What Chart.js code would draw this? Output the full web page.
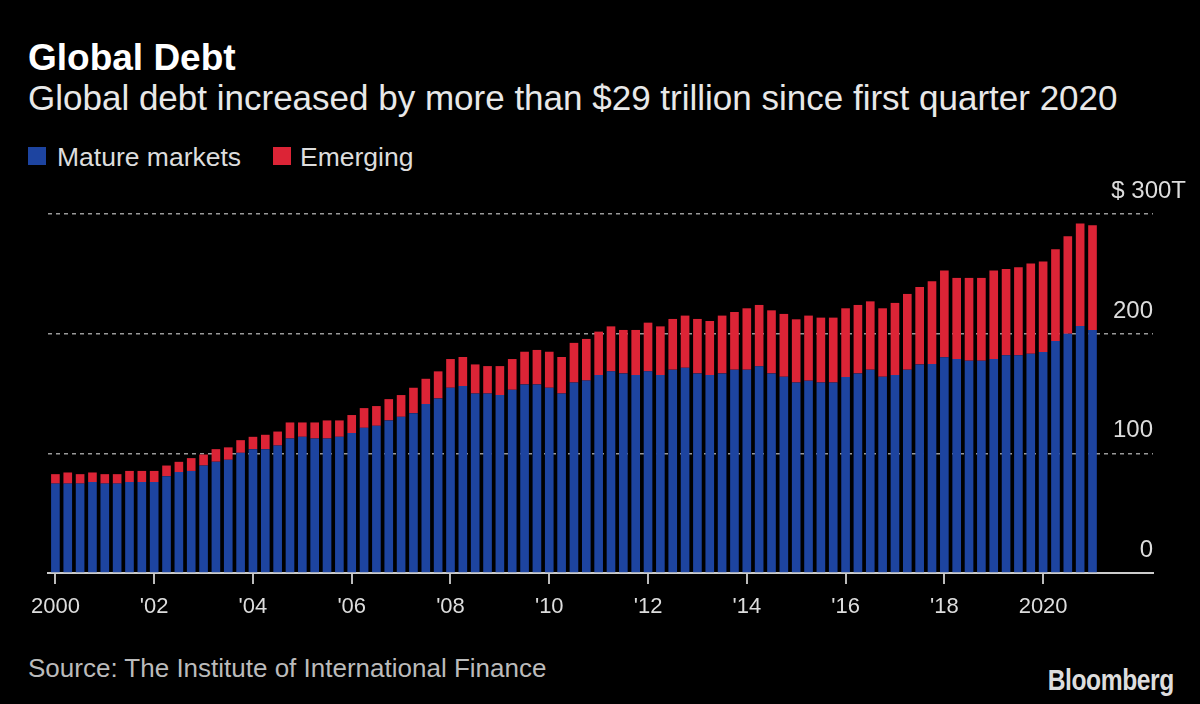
<!DOCTYPE html>
<html>
<head>
<meta charset="utf-8">
<script src="https://cdn.jsdelivr.net/npm/chart.js@4/dist/chart.umd.min.js"></script>
<style>
  html, body { margin: 0; padding: 0; background: #000; }
  body { width: 1200px; height: 704px; position: relative; overflow: hidden; font-family: "Liberation Sans", Arial, sans-serif; }
  .txt { position: absolute; white-space: nowrap; line-height: 1; }
  #title { left: 28px; top: 39px; font-size: 37px; font-weight: bold; color: #fff; }
  #subtitle { left: 28px; top: 80px; font-size: 35px; color: #e8e8e8; }
  .swatch { position: absolute; top: 147px; width: 18px; height: 18px; }
  .legend { top: 144px; font-size: 26.5px; color: #ddd; }
  #source { left: 28px; top: 655px; font-size: 26px; color: #bbb; }
  #logo { right: 26px; top: 665px; font-size: 30px; font-weight: bold; color: #ddd; transform: scaleX(0.82); transform-origin: right center; letter-spacing: -0.5px; }
  #wrap { position: absolute; left: 0; top: 180px; width: 1200px; height: 460px; }
</style>
</head>
<body>
<div id="title" class="txt">Global Debt</div>
<div id="subtitle" class="txt">Global debt increased by more than $29 trillion since first quarter 2020</div>
<div class="swatch" style="left:28px;background:#1d44a0"></div>
<div class="txt legend" style="left:57px">Mature markets</div>
<div class="swatch" style="left:273px;background:#dc2436"></div>
<div class="txt legend" style="left:300px">Emerging</div>
<div id="wrap"><canvas id="chart"></canvas></div>
<div id="source" class="txt">Source: The Institute of International Finance</div>
<div id="logo" class="txt">Bloomberg</div>
<script>
// quarterly, 2000 Q1 .. 2021 Q1, trillions of dollars
var quarters = [];
for (var yr = 2000; yr <= 2021; yr++) {
  for (var q = 1; q <= 4; q++) {
    if (yr === 2021 && q > 1) break;
    quarters.push(yr + ' Q' + q);
  }
}

var mature = [74.7, 74.7, 74.7, 76, 74.7, 74.7, 76, 76, 76, 80.9,
  84.3, 85.3, 89.8, 93, 94.6, 100.4, 103.5, 103.5, 106.5, 112.4,
  113.8, 112.4, 112.4, 113.8, 116.9, 121.3, 123, 127.5, 130.5, 133.6,
  141.2, 145.9, 154.8, 156.2, 150, 150, 148.7, 153.1, 157.6, 157.6,
  154.8, 150, 159.2, 160.8, 165.4, 168.5, 166.8, 165.4, 168.5, 165.4,
  169.9, 171.5, 166.8, 165.4, 166.8, 169.9, 169.9, 172.7, 166.8, 164,
  159.2, 160.7, 159.2, 159.2, 163.7, 166.8, 169.9, 164, 165.4, 169.9,
  174.3, 174.6, 180.2, 178.8, 177.4, 177.4, 178.8, 181.9, 181.9, 183.3,
  184.7, 193.9, 200, 206.4, 203.1];

var emerging = [7.9, 9.3, 7.9, 8, 7.9, 7.9, 9.3, 9.3, 9.3, 8.9,
  8.6, 10.7, 9.2, 10.5, 10.4, 10.6, 10.3, 12, 11.7, 13.4,
  12, 13.4, 15.1, 13.7, 15.1, 16.5, 16.5, 17.8, 18.2, 21.2,
  21.1, 22.6, 24, 24.3, 24.3, 22.9, 24.2, 25.7, 27.3, 28.8,
  30.1, 30.5, 33.1, 34.8, 36.3, 37.6, 36.3, 37.7, 40.7, 40.7,
  42.4, 43.6, 45.5, 45.2, 48.3, 48.2, 51.3, 51.3, 52.7, 52.5,
  52.8, 54.4, 54.2, 54.2, 57.5, 57.2, 57.1, 57.2, 60.3, 63.3,
  64.7, 69.2, 72.5, 67.8, 69.2, 69.2, 73.9, 72.2, 73.6, 75.3,
  75.6, 76.7, 81.4, 85.6, 87.5];

var yearTicks = [0, 8, 16, 24, 32, 40, 48, 56, 64, 72, 80];
var yearLabels = ['2000', "'02", "'04", "'06", "'08", "'10", "'12", "'14", "'16", "'18", '2020'];
var valueTicks = [0, 100, 200, 300];

function toPoints(values) {
  var out = [], i;
  for (i = 0; i < values.length; i++) {
    out.push({ x: i, y: values[i], q: quarters[i] });
  }
  return out;
}

// value labels sit above their gridline, right aligned at the gridline end
var yLabels = {
  id: 'yLabels',
  afterDraw: function(chart) {
    var ctx = chart.ctx, scale = chart.scales.y, area = chart.chartArea;
    ctx.save();
    ctx.font = '24px "Liberation Sans", Arial, sans-serif';
    ctx.fillStyle = '#ddd';
    ctx.textAlign = 'right';
    ctx.textBaseline = 'alphabetic';
    scale.ticks.forEach(function(t) {
      var py = scale.getPixelForValue(t.value) - 16;
      if (t.value === scale.max) {
        ctx.fillText('$ ' + t.value + 'T', area.right + 33, py);
      } else {
        ctx.fillText(String(t.value), area.right, py);
      }
    });
    ctx.restore();
  }
};

new Chart(document.getElementById('chart'), {
  type: 'bar',
  data: {
    datasets: [
      { label: 'Mature markets', data: toPoints(mature), backgroundColor: '#1d44a0' },
      { label: 'Emerging', data: toPoints(emerging), backgroundColor: '#dc2436' }
    ]
  },
  options: {
    responsive: true,
    maintainAspectRatio: false,
    animation: false,
    barPercentage: 0.7,
    categoryPercentage: 1,
    layout: { padding: { top: 34, left: 48, right: 47, bottom: 0 } },
    plugins: { legend: { display: false }, tooltip: { enabled: false } },
    scales: {
      x: {
        type: 'linear',
        stacked: true,
        offset: false,
        min: -0.6,
        max: 88.9,
        afterBuildTicks: function(s) {
          s.ticks = yearTicks.map(function(v) { return { value: v }; });
        },
        afterFit: function(s) { s.height = 67; },
        grid: { display: true, offset: false, drawOnChartArea: false, drawTicks: true, tickLength: 11, color: '#bbb', lineWidth: 2 },
        border: { display: true, color: '#ccc', width: 2 },
        ticks: {
          autoSkip: false,
          maxRotation: 0,
          padding: 10,
          color: '#ddd',
          font: { family: '"Liberation Sans", Arial, sans-serif', size: 22 },
          callback: function(v, i) { return yearLabels[i]; }
        }
      },
      y: {
        position: 'right',
        stacked: true,
        min: 0,
        max: 300,
        afterBuildTicks: function(s) {
          s.ticks = valueTicks.map(function(v) { return { value: v }; });
        },
        afterFit: function(s) { s.width = 0; },
        grid: { color: '#999', lineWidth: 1.5, drawTicks: false },
        border: { display: false, dash: [4, 4] },
        ticks: { display: false }
      }
    }
  },
  plugins: [yLabels]
});
</script>
</body>
</html>
